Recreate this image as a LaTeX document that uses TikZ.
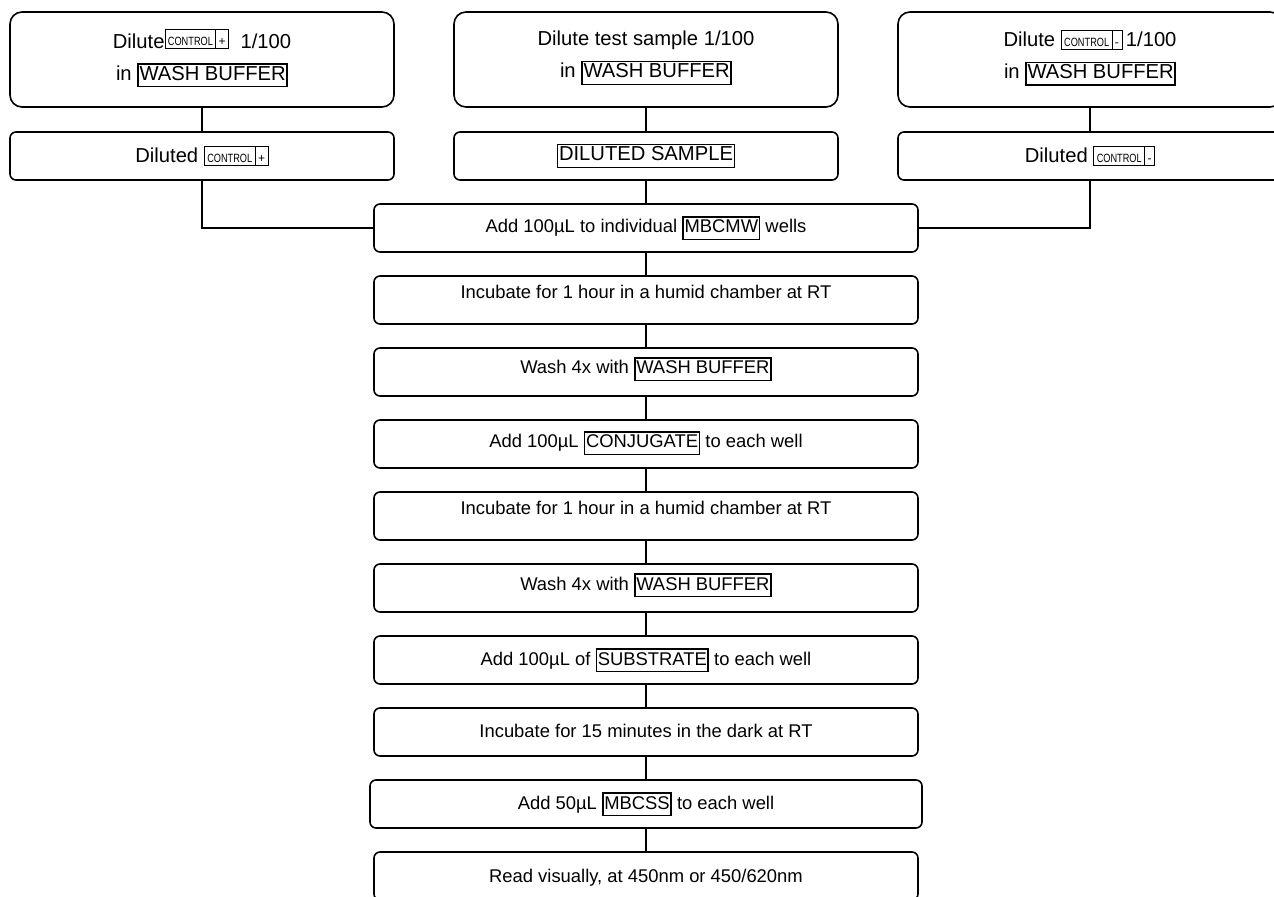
\documentclass[tikz,border=0pt]{standalone}
\usepackage{fontspec}
\setmainfont{Liberation Sans}
\usepackage{tikz}
\usetikzlibrary{positioning}

\newcommand{\kit}[1]{{\setlength{\fboxsep}{0.3pt}\setlength{\fboxrule}{0.8pt}%
    \fbox{\rule[-2.6pt]{0pt}{10pt}#1}}}
\newcommand{\ctrlbox}[1]{{\setlength{\fboxsep}{0pt}\setlength{\fboxrule}{0.5pt}%
    \fbox{\rule[-1.4pt]{0pt}{9pt}\hspace{1.2pt}\scalebox{1}[1.3]{%
        \fontsize{4.6}{5}\selectfont CONTROL}\hspace{1.2pt}\vrule
      \hspace{1.3pt}{\fontsize{6}{6}\selectfont #1}\hspace{1.3pt}}}}

\tikzset{
  every node/.style={font=\fontsize{9.2}{16}\selectfont, outer sep=0pt},
  topbox/.style={draw, line width=0.8pt, rounded corners=6pt, minimum
    width=192pt, minimum height=47.5pt, align=center, inner sep=0pt,
    font=\fontsize{10.1}{16}\selectfont},
  dilbox/.style={draw, line width=0.8pt, rounded corners=3pt, minimum
    width=192pt, minimum height=24pt, inner sep=0pt,
    font=\fontsize{10.1}{16}\selectfont},
  stepbox/.style={draw, line width=0.8pt, rounded corners=3pt, minimum
    width=272pt, minimum height=24pt, inner sep=0pt, text height=7pt,
    text depth=2pt},
  raised/.style={text depth=5pt},
  highraised/.style={text depth=8pt},
}

\begin{document}
\begin{tikzpicture}[x=0.5pt, y=-0.5pt, line width=0.8pt]
          \clip (0,0) rectangle (1274,897);%

          \node [topbox, text depth=5pt] (lt) at (202,59.5)
          {Dilute\raisebox{1.5pt}{\ctrlbox{+}}\ \ 1/100\\ in \kit{WASH BUFFER}};%
          \node [topbox, right=30pt of lt, text depth=5pt] (ct)
          {Dilute test sample 1/100\\ in \kit{WASH BUFFER}};%
          \node [topbox, right=30pt of ct, text depth=5pt] (rt)
          {Dilute \ctrlbox{-}\,1/100\\ in \kit{WASH BUFFER}};%

          \node [dilbox, below=12.5pt of lt] (ld) {Diluted \ctrlbox{+}};%
          \node [dilbox, below=12.5pt of ct] (cd) {\kit{DILUTED SAMPLE}};%
          \node [dilbox, below=12.5pt of rt] (rd) {Diluted \ctrlbox{-}};%

          \node [stepbox, below=12pt of cd] (s1)
          {Add 100µL to individual \kit{MBCMW} wells};%
          \node [stepbox, highraised, below=12pt of s1] (s2)
          {Incubate for 1 hour in a humid chamber at RT};%
          \node [stepbox, raised, below=12pt of s2] (s3)
          {Wash 4x with \kit{WASH BUFFER}};%
          \node [stepbox, text depth=3pt, below=12pt of s3] (s4)
          {Add 100µL \kit{CONJUGATE} to each well};%
          \node [stepbox, highraised, below=12pt of s4] (s5)
          {Incubate for 1 hour in a humid chamber at RT};%
          \node [stepbox, raised, below=12pt of s5] (s6)
          {Wash 4x with \kit{WASH BUFFER}};%
          \node [stepbox, below=12pt of s6] (s7)
          {Add 100µL of \kit{SUBSTRATE} to each well};%
          \node [stepbox, below=12pt of s7] (s8)
          {Incubate for 15 minutes in the dark at RT};%
          \node [stepbox, minimum width=276pt, below=12pt of s8] (s9)
          {Add 50µL \kit{MBCSS} to each well};%
          \node [stepbox, text depth=0.5pt, below=12pt of s9] (s10)
          {Read visually, at 450nm or 450/620nm};%

          \draw (lt) -- (ld);%
          \draw (ct) -- (cd);%
          \draw (rt) -- (rd);%
          \draw (cd) -- (s1);%
          \draw (ld.south) |- (s1.west);%
          \draw (rd.south) |- (s1.east);%

          \foreach \a/\b in {s1/s2, s2/s3, s3/s4, s4/s5, s5/s6, s6/s7, s7/s8,
            s8/s9, s9/s10}
          \draw (\a) -- (\b);%

        \end{tikzpicture}
\end{document}
